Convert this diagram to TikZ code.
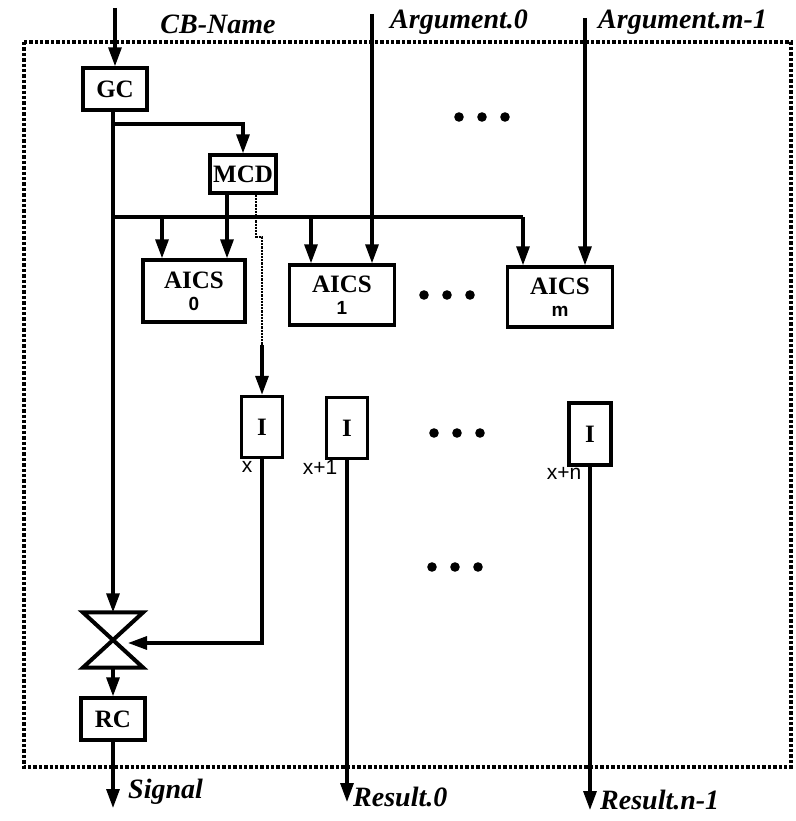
\documentclass[tikz,border=0pt]{standalone}
\usepackage{fontspec}
\setmainfont{Liberation Serif}
\setsansfont{Liberation Sans}
\usetikzlibrary{arrows.meta}
\begin{document}
\begin{tikzpicture}[x=1pt,y=-1pt,
  box/.style={draw, line width=3.4pt, inner sep=0pt, font=\fontsize{25}{27}\selectfont\bfseries},
  wire/.style={line width=3.2pt},
  arr/.style={wire, -{Triangle[length=19pt,width=13pt]}},
  lbl/.style={font=\fontsize{28}{30}\selectfont\bfseries\itshape, inner sep=0pt},
  idx/.style={font=\sffamily\fontsize{21}{22}\selectfont, inner sep=0pt},
  frame/.style={line width=4.2pt, dash pattern=on 3.4pt off 2pt},
  dotfill/.style={fill=black}]
\useasboundingbox (0,0) rectangle (795,821);
\draw[frame] (24,42) rectangle (791,767);
% boxes
\node[box, minimum width=64pt, minimum height=42pt] (GC) at (115,89) {GC};
\node[box, minimum width=66pt, minimum height=38pt] (MCD) at (243,174) {MCD};
\node[box, minimum width=102pt, minimum height=62pt, align=center] (A0) at (194,291) {AICS\\[-5pt]{\sffamily\fontsize{19}{19}\selectfont 0}};
\node[box, minimum width=105pt, minimum height=60pt, align=center] (A1) at (342,295) {AICS\\[-5pt]{\sffamily\fontsize{19}{19}\selectfont 1}};
\node[box, minimum width=105pt, minimum height=60pt, align=center] (Am) at (560,297) {AICS\\[-5pt]{\sffamily\fontsize{19}{19}\selectfont m}};
\node[box, minimum width=41pt, minimum height=61pt] (Ix) at (262,427) {I};
\node[box, minimum width=41pt, minimum height=61pt] (Ix1) at (347,428) {I};
\node[box, minimum width=42pt, minimum height=62pt] (Ixn) at (590,434) {I};
\node[box, minimum width=64pt, minimum height=42pt] (RC) at (113,719) {RC};
\node[minimum width=60pt, minimum height=55pt, inner sep=0pt] (HG) at (113,640) {};
\draw[line width=4pt, line join=miter] (HG.north west) -- (HG.north east) -- (HG.south west) -- (HG.south east) -- cycle;
% coordinates
\coordinate (cbin) at (115,8);
\coordinate (j1) at (113,124);
\coordinate (j2) at (113,217);
\coordinate (mcdin) at (243,124);
\coordinate (b0) at (162,217);
\coordinate (b1) at (311,217);
\coordinate (bm) at (523,217);
\coordinate (arg0) at (372,14);
\coordinate (argm) at (585,18);
\coordinate (m1) at (227,0);
\coordinate (d1) at (256,237);
\coordinate (d2) at (262,237);
\coordinate (d3) at (262,345);
\coordinate (k) at (262,643);
\coordinate (hgin) at (128,643);
\coordinate (sigend) at (113,808);
\coordinate (r0end) at (347,802);
\coordinate (rnend) at (590,810);
% connectors
\draw[arr] (cbin) -- (GC.north);
\draw[wire] (GC.south -| j1) -- (j1) -- (j2);
\draw[arr] (j1) -- (mcdin) -- (MCD.north);
\draw[arr] (j2) -- (HG.north);
\draw[wire] (j2) -- (bm);
\draw[arr] (bm) -- (bm |- Am.north);
\draw[arr] (b0) -- (b0 |- A0.north);
\draw[arr] (b1) -- (b1 |- A1.north);
\draw[arr] (arg0) -- (arg0 |- A1.north);
\draw[arr] (argm) -- (argm |- Am.north);
\draw[arr] (MCD.south -| m1) -- (m1 |- A0.north);
\draw[line width=2.2pt, densely dotted] (MCD.south -| d1) -- (d1) -- (d2) -- (d3);
\draw[arr] (d3) -- (Ix.north);
\draw[arr] (Ix.south) -- (k) -- (hgin);
\draw[arr] (HG.south) -- (RC.north);
\draw[arr] (RC.south) -- (sigend);
\draw[arr] (Ix1.south) -- (r0end);
\draw[arr] (Ixn.south) -- (rnend);
% labels
\node[lbl] (cbname) at (218,24) {CB-Name};
\node[lbl, anchor=west] (a0lbl) at (390,22) {Argument.0};
\node[lbl, anchor=west] (amlbl) at (598,22) {Argument.m-1};
\node[lbl, anchor=west] (siglbl) at (128,792) {Signal};
\node[lbl, anchor=west] (r0lbl) at (353,797) {Result.0};
\node[lbl, anchor=west] (rnlbl) at (600,800) {Result.n-1};
\node[idx] (lx) at (247,467) {x};
\node[idx] (lx1) at (320,467) {x+1};
\node[idx] (lxn) at (564,473) {x+n};
% ellipsis dots
\foreach \cx/\cy in {482/117, 447/295, 457/433, 455/567}{
  \foreach \dx in {-23,0,23}{
    \fill[dotfill] (\cx+\dx,\cy) circle (4.8pt);
  }
}
\end{tikzpicture}
\end{document}
